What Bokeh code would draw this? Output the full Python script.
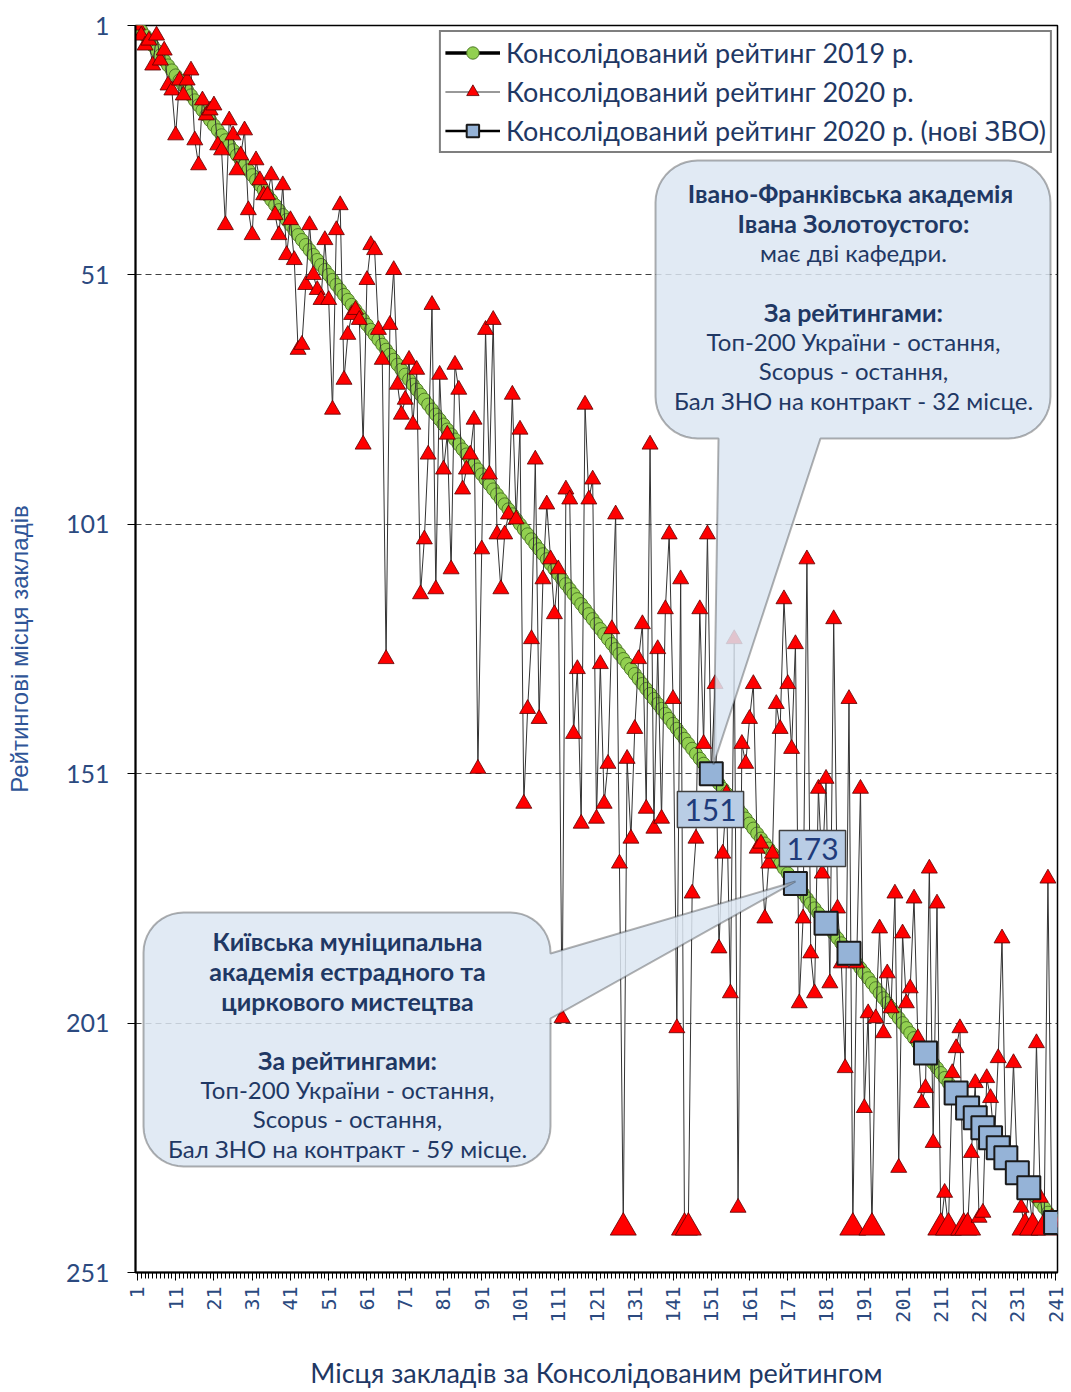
import math
from bokeh.plotting import figure
from bokeh.models import Range1d, FixedTicker, Legend, LegendItem, Label, PolyAnnotation, ColumnDataSource
from bokeh.embed import file_html
from bokeh.resources import INLINE

# ---------------- data ----------------
positions = list(range(1, 242))

rating_2020 = [
    1, 3, 5, 4, 9, 3, 8, 6, 13, 14,
    23, 12, 15, 12, 10, 24, 29, 16, 19, 18,
    17, 25, 26, 41, 20, 23, 30, 27, 22, 38,
    43, 28, 32, 35, 35, 31, 39, 43, 33, 47,
    40, 48, 66, 65, 53, 41, 51, 54, 56, 44,
    56, 78, 42, 37, 72, 63, 59, 58, 60, 85,
    52, 45, 46, 62, 68, 128, 61, 50, 73, 79,
    76, 68, 81, 70, 115, 104, 87, 57, 114, 71,
    90, 83, 110, 69, 74, 94, 90, 87, 80, 150,
    106, 62, 91, 60, 103, 114, 103, 99, 75, 100,
    82, 157, 138, 124, 88, 140, 112, 97, 108, 119,
    110, 200, 94, 96, 143, 130, 161, 77, 96, 92,
    160, 129, 157, 149, 122, 99, 169, 242, 148, 164,
    142, 128, 121, 158, 85, 162, 126, 160, 118, 103,
    136, 202, 112, 242, 242, 175, 164, 118, 145, 103,
    151, 133, 186, 167, 155, 195, 124, 238, 145, 149,
    140, 133, 166, 165, 180, 169, 167, 137, 142, 116,
    133, 146, 125, 197, 180, 108, 187, 195, 154, 171,
    152, 193, 120, 178, 189, 210, 136, 242, 189, 154,
    218, 199, 242, 200, 182, 203, 191, 198, 175, 230,
    183, 197, 194, 176, 204, 217, 214, 170, 225, 177,
    242, 235, 242, 211, 206, 202, 242, 242, 227, 213,
    240, 239, 212, 216, 225, 208, 184, 228, 229, 209,
    231, 238, 242, 234, 242, 205, 236, 242, 172, 240, 241,
]

rating_2019 = [
    1, 2, 3, 4, 5, 6, 7, 8, 9, 10,
    11, 12, 13, 14, 15, 16, 17, 18, 19, 20,
    21, 22, 23, 24, 25, 26, 27, 28, 29, 30,
    31, 32, 33, 34, 35, 36, 37, 38, 39, 40,
    41, 42, 43, 44, 45, 46, 47, 48, 49, 50,
    51, 52, 53, 54, 55, 56, 57, 58, 59, 60,
    61, 62, 63, 64, 65, 66, 67, 68, 69, 70,
    71, 72, 73, 74, 75, 76, 77, 78, 79, 80,
    81, 82, 83, 84, 85, 86, 87, 88, 89, 90,
    91, 92, 93, 94, 95, 96, 97, 98, 99, 100,
    101, 102, 103, 104, 105, 106, 107, 108, 109, 110,
    111, 112, 113, 114, 115, 116, 117, 118, 119, 120,
    121, 122, 123, 124, 125, 126, 127, 128, 129, 130,
    131, 132, 133, 134, 135, 136, 137, 138, 139, 140,
    141, 142, 143, 144, 145, 146, 147, 148, 149, 150,
    None, 152, 153, 154, 155, 156, 157, 158, 159, 160,
    161, 162, 163, 164, 165, 166, 167, 168, 169, 170,
    171, 172, None, 174, 175, 176, 177, 178, 179, 180,
    None, 182, 183, 184, 185, 186, None, 188, 189, 190,
    191, 192, 193, 194, 195, 196, 197, 198, 199, 200,
    201, 202, 203, 204, 205, 206, None, 208, 209, 210,
    211, 212, 213, 214, None, 216, 217, None, 219, None,
    221, None, 223, None, 225, None, 227, None, 229, 230,
    None, 232, 233, None, 235, 236, 237, 238, 239, 240, None,
]

new_positions = [151, 173, 181, 187, 207, 215, 218, 220, 222, 224, 226, 228, 231, 234, 241]
new_rating_2020 = [151, 173, 181, 187, 207, 215, 218, 220, 222, 224, 226, 228, 231, 234, 241]

x_tick_labels = [1, 11, 21, 31, 41, 51, 61, 71, 81, 91, 101, 111, 121, 131, 141, 151,
                 161, 171, 181, 191, 201, 211, 221, 231, 241]
y_tick_labels = [1, 51, 101, 151, 201, 251]
grid_levels = [51, 101, 151, 201]
NOT_RATED = 242

x_title = "Місця закладів за Консолідованим рейтингом"
y_title = "Рейтингові місця закладів"
legend_labels = [
    "Консолідований рейтинг 2019 р.",
    "Консолідований рейтинг 2020 р.",
    "Консолідований рейтинг 2020 р. (нові ЗВО)",
]
callout1_lines = [
    ("Івано-Франківська  академія", "bold"),
    ("Івана Золотоустого:", "bold"),
    ("має дві кафедри.", "normal"),
    ("За рейтингами:", "bold"),
    ("Топ-200 України - остання,", "normal"),
    ("Scopus - остання,", "normal"),
    ("Бал ЗНО на контракт - 32 місце.", "normal"),
]
callout2_lines = [
    ("Київська муніципальна", "bold"),
    ("академія естрадного та", "bold"),
    ("циркового мистецтва", "bold"),
    ("За рейтингами:", "bold"),
    ("Топ-200 України - остання,", "normal"),
    ("Scopus - остання,", "normal"),
    ("Бал ЗНО на контракт - 59 місце.", "normal"),
]

# ---------------- figure ----------------
# intended frame in figure pixels
FL, FR, FT, FB = 135.0, 1057.0, 25.0, 1272.0
W, H = 1071, 1392
X0, X1 = 0.5, 241.5
YB, YT = 251, 1
p = figure(width=W, height=H, x_range=Range1d(X0, X1), y_range=Range1d(YB, YT),
           output_backend="svg", toolbar_location=None,
           min_border_left=int(FL), min_border_right=int(W - FR),
           min_border_top=int(FT), min_border_bottom=int(H - FB))
p.background_fill_color = "white"
p.border_fill_color = "white"
p.outline_line_color = "black"
p.outline_line_width = 1.5

def to_x(px):
    return X0 + (px - FL) * (X1 - X0) / (FR - FL)
def to_y(py):
    return YT + (py - FT) * (YB - YT) / (FB - FT)

# axes
TICK_BLUE = "#2b4a80"
xa = p.xaxis[0]
xa.ticker = FixedTicker(ticks=x_tick_labels, minor_ticks=positions)
xa.major_label_orientation = math.pi / 2
xa.major_label_text_font = "DejaVu Sans Mono"
xa.major_label_text_font_size = "20px"
xa.major_label_text_color = TICK_BLUE
xa.major_label_standoff = 6
xa.major_tick_out = 8
xa.major_tick_in = 0
xa.minor_tick_out = 6
xa.minor_tick_in = 0
xa.axis_line_width = 2
xa.axis_line_color = "black"
xa.major_tick_line_color = "black"
xa.minor_tick_line_color = "black"
xa.axis_label = x_title
xa.axis_label_text_font = "Lato"
xa.axis_label_text_font_size = "27px"
xa.axis_label_text_font_style = "normal"
xa.axis_label_text_color = "#1f3864"
xa.axis_label_standoff = 30

ya = p.yaxis[0]
ya.ticker = FixedTicker(ticks=y_tick_labels)
ya.major_label_text_font = "Lato"
ya.major_label_text_font_size = "25px"
ya.major_label_text_color = TICK_BLUE
ya.major_label_standoff = 18
ya.major_tick_out = 8
ya.major_tick_in = 0
ya.minor_tick_out = 0
ya.minor_tick_in = 0
ya.axis_line_width = 2
ya.axis_line_color = "black"
ya.axis_label = y_title
ya.axis_label_text_font = "Liberation Sans"
ya.axis_label_text_font_size = "24px"
ya.axis_label_text_font_style = "normal"
ya.axis_label_text_color = "#2f5597"
ya.axis_label_standoff = 30

p.xgrid.visible = False
p.ygrid.ticker = FixedTicker(ticks=grid_levels)
p.ygrid.grid_line_color = "#404040"
p.ygrid.grid_line_dash = "6 4"
p.ygrid.grid_line_width = 1

# ---------------- series ----------------
gx = [x for x, v in zip(positions, rating_2019) if v is not None]
gy = [v for v in rating_2019 if v is not None]
g_line = p.line(gx, gy, line_color="black", line_width=3.5)
g_pts = p.scatter(gx, gy, marker="circle", size=13, fill_color="#92d050",
                  line_color="#4f7a28", line_width=1)

red_src = ColumnDataSource(dict(
    x=positions, y=rating_2020,
    size=[26 if v >= NOT_RATED else 16 for v in rating_2020],
))
r_line = p.line("x", "y", source=red_src, line_color="#333333", line_width=1)
r_pts = p.scatter("x", "y", source=red_src, marker="triangle", size="size",
                  fill_color="#ff0000", line_color="#5a0000", line_width=0.8)

b_pts = p.scatter(new_positions, new_rating_2020, marker="square", size=23,
                  fill_color="#95b3d7", line_color="#1a1a1a", line_width=2)
# one-point line: draws nothing in the plot, only provides the legend's line
b_line = p.line(new_positions[:1], new_rating_2020[:1], line_color="black", line_width=2.5)

# ---------------- callouts ----------------
def arc(cx, cy, r, a0, a1, n=12):
    return [(cx + r * math.cos(math.radians(a0 + (a1 - a0) * i / (n - 1))),
             cy + r * math.sin(math.radians(a0 + (a1 - a0) * i / (n - 1)))) for i in range(n)]

def callout_bottom_tail(L, R, T, B, r, bl, br, tip):
    pts = []
    pts += arc(R - r, T + r, r, -90, 0)
    pts += arc(R - r, B - r, r, 0, 90)
    pts += [(br, B), tip, (bl, B)]
    pts += arc(L + r, B - r, r, 90, 180)
    pts += arc(L + r, T + r, r, 180, 270)
    return pts

def callout_right_tail(L, R, T, B, r, bt, bb, tip):
    pts = []
    pts += arc(R - r, T + r, r, -90, 0)
    pts += [(R, bt), tip, (R, bb)]
    pts += arc(R - r, B - r, r, 0, 90)
    pts += arc(L + r, B - r, r, 90, 180)
    pts += arc(L + r, T + r, r, 180, 270)
    return pts

def add_poly(pts):
    p.add_layout(PolyAnnotation(xs=[to_x(a) for a, b in pts], ys=[to_y(b) for a, b in pts],
                                fill_color="#dce6f2", fill_alpha=0.85,
                                line_color="black", line_width=2))

add_poly(callout_bottom_tail(655, 1050, 160, 438, 42, 718, 820, (713, 764)))
add_poly(callout_right_tail(143, 550, 912, 1166, 40, 953, 1018, (795, 881)))

TEXT_BLUE = "#1f3864"
def add_lines(lines, cx, ys):
    for (txt, style), py in zip(lines, ys):
        p.add_layout(Label(x=to_x(cx), y=to_y(py), text=txt, text_align="center",
                           text_baseline="middle", text_font="Lato",
                           text_font_size="24px" if style == "normal" else "25px",
                           text_font_style=style, text_color=TEXT_BLUE))

add_lines(callout1_lines, 853, [192, 222, 252, 311, 341, 370, 400])
add_lines(callout2_lines, 347, [940, 970, 1000, 1059, 1089, 1118, 1148])

for txt, cx, cy in [("151", 710, 809), ("173", 812, 848)]:
    p.add_layout(Label(x=to_x(cx), y=to_y(cy), text=txt, text_align="center",
                       text_baseline="middle", text_font="Lato", text_font_size="30px",
                       text_color="#1f3b7a", background_fill_color="#b9cde5",
                       border_line_color="#404040", border_line_width=1.5, padding=7))

# ---------------- legend ----------------
legend = Legend(items=[
    LegendItem(label=legend_labels[0], renderers=[g_line, g_pts]),
    LegendItem(label=legend_labels[1], renderers=[r_line, r_pts]),
    LegendItem(label=legend_labels[2], renderers=[b_line, b_pts]),
], location="top_right")
legend.border_line_color = "black"
legend.border_line_width = 2
legend.background_fill_color = "white"
legend.background_fill_alpha = 1
legend.label_text_font = "Lato"
legend.label_text_font_size = "27px"
legend.label_text_color = TEXT_BLUE
legend.glyph_width = 55
legend.glyph_height = 31
legend.label_height = 31
legend.label_standoff = 6
legend.spacing = 6
legend.padding = 4
legend.margin = 5
p.add_layout(legend)

open("out.html", "w").write(file_html(p, INLINE))
